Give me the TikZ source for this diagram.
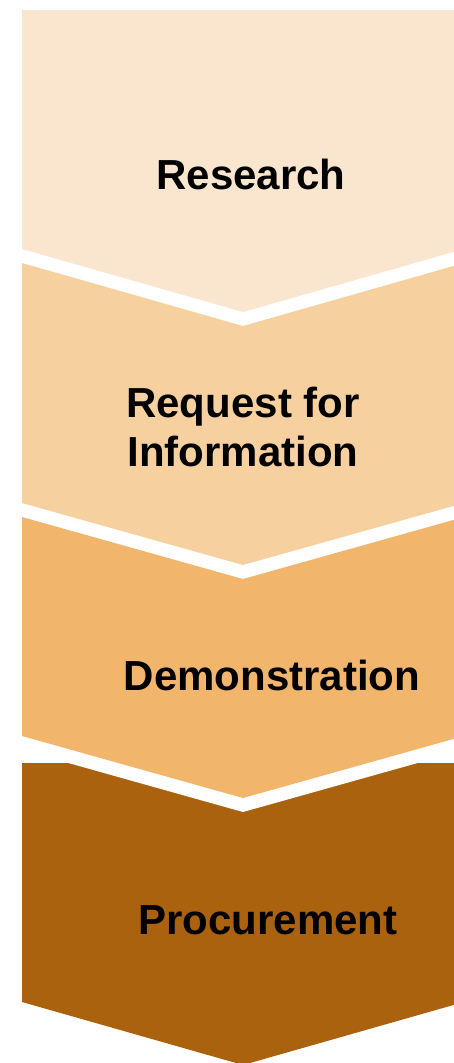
\documentclass[tikz,border=0pt]{standalone}
\usepackage{fontspec}
\setmainfont{Liberation Sans}
\definecolor{stepA}{RGB}{250,229,206}
\definecolor{stepB}{RGB}{247,208,160}
\definecolor{stepC}{RGB}{242,181,108}
\definecolor{stepD}{RGB}{170,98,15}
\begin{document}
\begin{tikzpicture}[x=1pt,y=-1pt,
  lbl/.style={font=\fontsize{42}{48.3}\selectfont\bfseries, text=black, inner sep=0pt, anchor=base, align=center},
  shapefill/.style={fill=#1, draw=none}]
\useasboundingbox (0,0) rectangle (454,1063);
\clip (0,0) rectangle (454,1063);
% step 4 (flat top)
\path[shapefill=stepD] (22,763) -- (464,763) -- (464,1002) -- (243,1065) -- (22,1002) -- cycle;
% white band under step 3
\path[fill=white] (22,700) -- (464,700) -- (464,750) -- (243,812) -- (22,750) -- cycle;
% step 3
\path[shapefill=stepC] (22,517) -- (243,579) -- (464,517) -- (464,736) -- (243,798) -- (22,736) -- cycle;
% step 2
\path[shapefill=stepB] (22,263) -- (243,326) -- (464,263) -- (464,503) -- (243,565) -- (22,503) -- cycle;
% step 1
\path[shapefill=stepA] (22,10) -- (464,10) -- (464,249) -- (243,312) -- (22,249) -- cycle;
% labels
\node[lbl] (research) at (251,189) {Research};
\node[lbl] (rfi) at (243,466) {Request for\\Information};
\node[lbl] (demo) at (272,690) {Demonstration};
\node[lbl] (proc) at (268,934) {Procurement};
\end{tikzpicture}
\end{document}
